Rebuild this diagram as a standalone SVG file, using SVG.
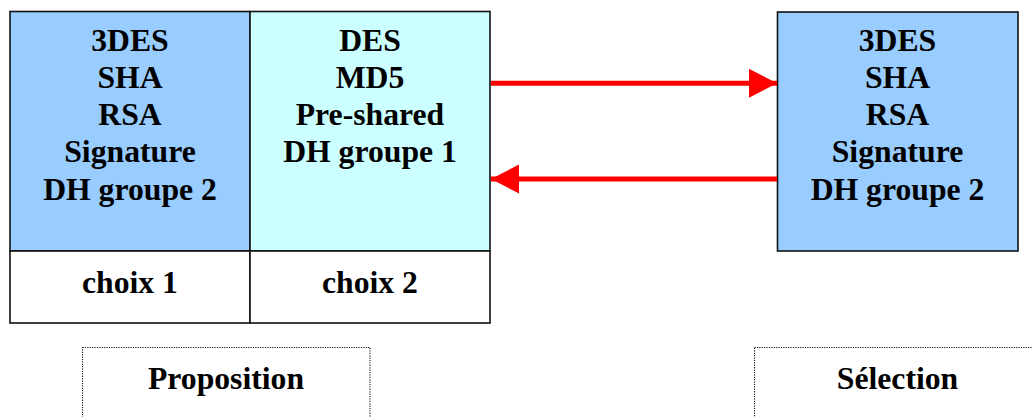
<svg xmlns="http://www.w3.org/2000/svg" width="1033" height="417" viewBox="0 0 1033 417">
  <style>
    .t { font-family: "Liberation Serif", "Times New Roman", serif; font-weight: bold; font-size: 31.7px; fill: #000; text-anchor: middle; }
    .cell { stroke: #111; stroke-width: 1.6; }
    .note { fill: none; stroke: #111; stroke-width: 1.1; stroke-dasharray: 1.2 1.2; }
    .link { stroke: #ff0000; stroke-width: 5; fill: none; }
  </style>
  <defs>
    <marker id="head" markerUnits="userSpaceOnUse" markerWidth="30" markerHeight="30" refX="28" refY="14.5" orient="auto">
      <path d="M0,0 L28,14.5 L0,29 Z" fill="#ff0000"/>
    </marker>
  </defs>
  <rect width="1033" height="417" fill="#fff"/>

  <!-- proposal table: two options side by side -->
  <g id="choix1">
    <rect class="cell" x="10" y="11.5" width="240" height="239.5" fill="#99ccff"/>
    <rect class="cell" x="10" y="251" width="240" height="72" fill="#fff"/>
    <text class="t" x="130" y="50.7">3DES</text>
    <text class="t" x="130" y="87.9">SHA</text>
    <text class="t" x="130" y="125.1">RSA</text>
    <text class="t" x="130" y="162.3">Signature</text>
    <text class="t" x="130" y="199.5">DH groupe 2</text>
    <text class="t" x="130" y="292.7">choix 1</text>
  </g>
  <g id="choix2">
    <rect class="cell" x="250" y="11.5" width="240" height="239.5" fill="#ccffff"/>
    <rect class="cell" x="250" y="251" width="240" height="72" fill="#fff"/>
    <text class="t" x="370" y="50.7">DES</text>
    <text class="t" x="370" y="87.9">MD5</text>
    <text class="t" x="370" y="125.1">Pre-shared</text>
    <text class="t" x="370" y="162.3">DH groupe 1</text>
    <text class="t" x="370" y="292.7">choix 2</text>
  </g>

  <!-- responder's selected set -->
  <g id="selection-box">
    <rect class="cell" x="777.5" y="12" width="240.5" height="239" fill="#99ccff"/>
    <text class="t" x="897.5" y="50.7">3DES</text>
    <text class="t" x="897.5" y="87.9">SHA</text>
    <text class="t" x="897.5" y="125.1">RSA</text>
    <text class="t" x="897.5" y="162.3">Signature</text>
    <text class="t" x="897.5" y="199.5">DH groupe 2</text>
  </g>

  <g id="connectors">
    <line class="link" x1="491" y1="83.3" x2="777" y2="83.3" marker-end="url(#head)"/>
    <line class="link" x1="777" y1="179" x2="491" y2="179" marker-end="url(#head)"/>
  </g>

  <!-- captions -->
  <g id="proposition">
    <rect class="note" x="82.5" y="347.5" width="287.5" height="80"/>
    <text class="t" x="226" y="389.3">Proposition</text>
  </g>
  <g id="selection">
    <rect class="note" x="754.5" y="347.5" width="300" height="80"/>
    <text class="t" x="897.5" y="389.3">Sélection</text>
  </g>
</svg>
